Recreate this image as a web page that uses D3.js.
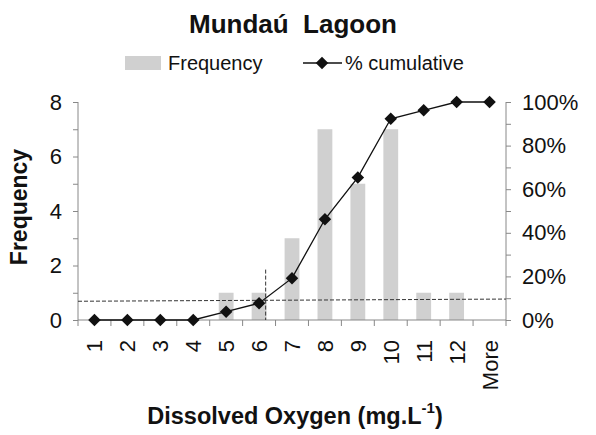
<!DOCTYPE html>
<meta charset="utf-8">
<style>
body { margin: 0; background: #fff; }
text { font-family: "Liberation Sans", Arial, sans-serif; fill: #111; }
.axis path, .axis line { stroke: #888; }
</style>
<svg width="596" height="435"></svg>
<script src="https://cdn.jsdelivr.net/npm/d3@7"></script>
<script>

var categories = ["1", "2", "3", "4", "5", "6", "7", "8", "9", "10", "11", "12", "More"];
var frequency = [0, 0, 0, 0, 1, 1, 3, 7, 5, 7, 1, 1, 0];
var cumulative = [0, 0, 0, 0, 3.8, 7.7, 19.2, 46.2, 65.4, 92.3, 96.2, 100, 100];
// reference lines (threshold 6 mg/L)
var refX = 6.2;
var refPct = [8.6, 9.6];

var svg = d3.select("svg"),
    margin = {top: 102, right: 90, bottom: 115, left: 78},
    width = 596 - margin.left - margin.right,
    height = 435 - margin.top - margin.bottom;

var g = svg.append("g").attr("transform", "translate(" + margin.left + "," + margin.top + ")");

var x = d3.scaleBand().domain(categories).range([0, width]).paddingInner(0.55).paddingOuter(0.275);
var xStep = d3.scaleBand().domain(categories).range([0, width]);
var y = d3.scaleLinear().domain([0, 8]).range([height, 0]);
var y2 = d3.scaleLinear().domain([0, 100]).range([height, 0]);
var xc = function(i) { return xStep(categories[i]) + xStep.bandwidth() / 2; };
var xPos = d3.scaleLinear().domain([1, 13]).range([xc(0), xc(12)]);

// bars
g.selectAll(".bar")
  .data(frequency)
  .enter().append("rect")
    .attr("x", function(d, i) { return x(categories[i]); })
    .attr("y", function(d) { return y(d); })
    .attr("width", x.bandwidth())
    .attr("height", function(d) { return height - y(d); })
    .attr("fill", "#d0d0d0");

// axes
var yAxis = g.append("g").attr("class", "axis")
    .call(d3.axisLeft(y).ticks(8).tickSize(5).tickFormat(function(d) { return d % 2 === 0 ? d : ""; }));
var y2Axis = g.append("g").attr("class", "axis").attr("transform", "translate(" + width + ",0)")
    .call(d3.axisRight(y2).tickValues(d3.range(0, 101, 10)).tickSize(5)
      .tickFormat(function(d) { return d % 20 === 0 ? d + "%" : ""; }));
[yAxis, y2Axis].forEach(function(a) {
  a.select(".domain").attr("d", "M0,0V" + height);
  a.selectAll("text").style("font-size", "22px").style("font-family", "Liberation Sans, Arial, sans-serif").attr("fill", "#111");
});
yAxis.selectAll("text").attr("x", -16);
y2Axis.selectAll("text").attr("x", 16);

var xAxis = g.append("g").attr("class", "axis").attr("transform", "translate(0," + height + ")");
xAxis.append("line").attr("x1", 0).attr("x2", width).attr("stroke", "#888");
xAxis.selectAll(".tk")
  .data(d3.range(categories.length + 1))
  .enter().append("line")
    .attr("x1", function(i) { return i * xStep.step(); })
    .attr("x2", function(i) { return i * xStep.step(); })
    .attr("y2", 6)
    .attr("stroke", "#888");
xAxis.selectAll(".lbl")
  .data(categories)
  .enter().append("text")
    .attr("transform", function(d) { return "translate(" + (xStep(d) + xStep.bandwidth() / 2 + 8) + ",20) rotate(-90)"; })
    .attr("text-anchor", "end")
    .style("font-size", "22px")
    .text(function(d) { return d; });

// reference dashed lines
g.append("line")
    .attr("x1", 0).attr("x2", width)
    .attr("y1", y2(refPct[0])).attr("y2", y2(refPct[1]))
    .attr("stroke", "#333").attr("stroke-width", 1).attr("stroke-dasharray", "4,2");
g.append("line")
    .attr("x1", xPos(refX)).attr("x2", xPos(refX))
    .attr("y1", y(1.85)).attr("y2", height)
    .attr("stroke", "#333").attr("stroke-width", 1).attr("stroke-dasharray", "4,2");

// cumulative line
var line = d3.line()
    .x(function(d, i) { return xc(i); })
    .y(function(d) { return y2(d); });
g.append("path").datum(cumulative)
    .attr("d", line).attr("fill", "none").attr("stroke", "#111").attr("stroke-width", 1.3);
var diamond = d3.symbol().type(d3.symbolDiamond2).size(100);
g.selectAll(".pt")
  .data(cumulative)
  .enter().append("path")
    .attr("d", diamond)
    .attr("transform", function(d, i) { return "translate(" + xc(i) + "," + y2(d) + ")"; })
    .attr("fill", "#111");

// title and labels
svg.append("text").attr("x", 293).attr("y", 33).attr("text-anchor", "middle")
    .style("white-space", "pre")
    .style("font-size", "26px").style("font-weight", "bold").text("Mundaú  Lagoon");

var lg = svg.append("g");
lg.append("rect").attr("x", 125).attr("y", 56).attr("width", 36).attr("height", 14).attr("fill", "#d0d0d0");
lg.append("text").attr("x", 168).attr("y", 70).style("font-size", "20px").text("Frequency");
lg.append("line").attr("x1", 303).attr("x2", 342).attr("y1", 63).attr("y2", 63).attr("stroke", "#111").attr("stroke-width", 1.3);
lg.append("path").attr("d", diamond).attr("transform", "translate(322,63)").attr("fill", "#111");
lg.append("text").attr("x", 345).attr("y", 70).style("font-size", "20px").text("% cumulative");

svg.append("text")
    .attr("transform", "translate(27,207) rotate(-90)")
    .attr("text-anchor", "middle")
    .style("font-size", "23px").style("font-weight", "bold").text("Frequency");

var xl = svg.append("text").attr("x", 295).attr("y", 424).attr("text-anchor", "middle")
    .style("font-size", "23.5px").style("font-weight", "bold");
xl.append("tspan").text("Dissolved Oxygen (mg.L");
xl.append("tspan").attr("dy", -11).style("font-size", "15px").text("-1");
xl.append("tspan").attr("dy", 11).text(")");

</script>
